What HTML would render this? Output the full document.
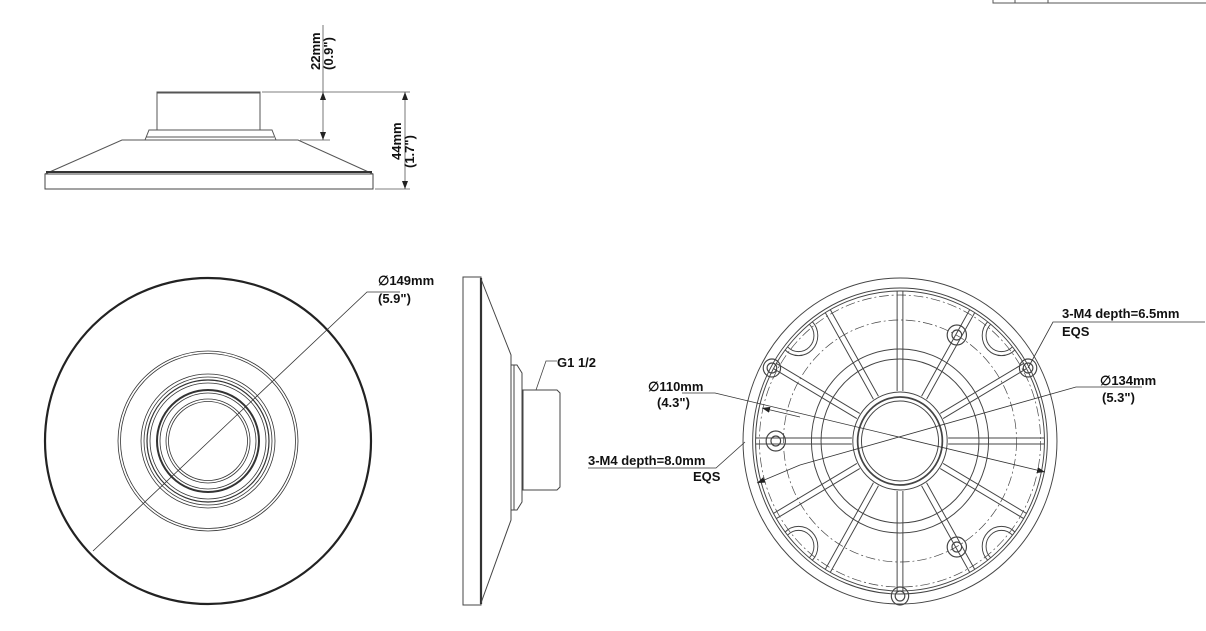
<!DOCTYPE html>
<html><head><meta charset="utf-8"><style>
html,body{margin:0;padding:0;background:#fff;width:1206px;height:631px;overflow:hidden}
svg text{font-family:"Liberation Sans",sans-serif;font-weight:bold;font-size:13px;fill:#111}
</style></head><body>
<svg width="1206" height="631" viewBox="0 0 1206 631" xmlns="http://www.w3.org/2000/svg">
<defs>
<marker id="ar" markerWidth="8" markerHeight="6" refX="8" refY="3" orient="auto-start-reverse" markerUnits="userSpaceOnUse"><path d="M0,0 L8,3 L0,6 z" fill="#222"/></marker>
</defs>
<g stroke="#555" stroke-width="1" fill="none">
<path d="M993,0 V3 H1206 M1015,0 V3 M1048,0 V3"/>
<rect x="45" y="174" width="328" height="15" stroke="#444"/>
<path d="M45,174 L122,140 H298 L373,174" />
<path d="M46,172 H372" stroke="#333" stroke-width="2"/>
<path d="M145,140 L149,130 H272 L276,140 M146,137 H274"/>
<rect x="157" y="92" width="103" height="38"/>
<path d="M157,93 H260"/>
<path d="M262,92 H410 M300,140 H330 M375,189 H410" stroke-width="0.8"/>
<path d="M323,25 V92" stroke-width="0.8"/>
<path d="M323,116 V92" stroke-width="0.8" marker-end="url(#ar)"/>
<path d="M323,116 V140" stroke-width="0.8" marker-end="url(#ar)"/>
<path d="M405,92 V189" stroke-width="0.8" marker-start="url(#ar)" marker-end="url(#ar)"/>
</g>
<text transform="translate(320,70) rotate(-90)" font-size="12">22mm</text>
<text transform="translate(333,70) rotate(-90)" font-size="12">(0.9")</text>
<text transform="translate(401,160) rotate(-90)" font-size="12">44mm</text>
<text transform="translate(414,168) rotate(-90)" font-size="12">(1.7")</text>

<g fill="none" stroke="#333">
<circle cx="208" cy="441" r="163" stroke-width="2.2" stroke="#222"/>
<circle cx="208" cy="441" r="90" stroke-width="0.8"/>
<circle cx="208" cy="441" r="87.5" stroke-width="0.8"/>
<circle cx="208" cy="441" r="67" stroke-width="0.8"/>
<circle cx="208" cy="441" r="64" stroke-width="0.8"/>
<circle cx="208" cy="441" r="61" stroke-width="1.2"/>
<circle cx="208" cy="441" r="58" stroke-width="0.8"/>
<circle cx="208" cy="441" r="51" stroke-width="2"/>
<circle cx="208" cy="441" r="48" stroke-width="0.8"/>
<circle cx="208" cy="441" r="42" stroke-width="0.8"/>
<circle cx="208" cy="441" r="39.5" stroke-width="0.8"/>
<path d="M93,551 L367,292 H400" stroke-width="0.8"/>
</g>
<text x="378" y="285">∅149mm</text>
<text x="378" y="303">(5.9")</text>

<g fill="none" stroke="#444">
<rect x="463" y="277" width="18" height="328"/>
<path d="M481,278 V604" stroke-width="2.2" stroke="#333"/>
<path d="M481,279 L511,355 V520 L481,603"/>
<path d="M511,365 H517 L522,373 V502 L517,510 H511 Z"/>
<path d="M514,365 V510"/>
<path d="M523,390 H557 L560,393 V487 L557,490 H523 Z"/>
<path d="M536,390 L546,361 H557" stroke-width="0.8"/>
</g>
<text x="557" y="367">G1 1/2</text>

<g transform="translate(900,441) scale(0.963,1)" fill="none" stroke="#444" stroke-width="1">
<circle r="163"/>
<circle r="153"/>
<circle r="150"/>
<circle r="146" stroke-dasharray="10,3,2,3" stroke-width="0.7"/>
<circle r="121" stroke-dasharray="10,3,2,3" stroke-width="0.7"/>
<circle r="92"/>
<circle r="82"/>
<circle r="49"/>
<circle r="44" stroke-width="1.8"/>
<circle r="40"/>
<g id="rib"><path d="M-3,-50 V-150 M3,-50 V-150"/></g>
<use href="#rib" transform="rotate(30)"/>
<use href="#rib" transform="rotate(60)"/>
<use href="#rib" transform="rotate(90)"/>
<use href="#rib" transform="rotate(120)"/>
<use href="#rib" transform="rotate(150)"/>
<use href="#rib" transform="rotate(180)"/>
<use href="#rib" transform="rotate(210)"/>
<use href="#rib" transform="rotate(240)"/>
<use href="#rib" transform="rotate(270)"/>
<use href="#rib" transform="rotate(300)"/>
<use href="#rib" transform="rotate(330)"/>
<g id="notch"><path d="M-20,-149 A20,20 0 0 0 20,-149 M-16,-149 A16,16 0 0 0 16,-149" transform="rotate(45)"/></g>
<use href="#notch" transform="rotate(90)"/>
<use href="#notch" transform="rotate(180)"/>
<use href="#notch" transform="rotate(270)"/>
<g stroke-width="1.2">
<circle cx="59" cy="-106" r="10"/><circle cx="59" cy="-106" r="5"/>
<circle cx="59" cy="106" r="10"/><circle cx="59" cy="106" r="5"/>
<circle cx="-129" cy="0" r="10"/><circle cx="-129" cy="0" r="5"/>
<circle cx="133" cy="-73" r="9"/><circle cx="133" cy="-73" r="5"/>
<circle cx="-133" cy="-73" r="9"/><circle cx="-133" cy="-73" r="5"/>
<circle cx="0" cy="155" r="9"/><circle cx="0" cy="155" r="5"/>
</g>
</g>
<g fill="none" stroke="#333" stroke-width="0.8">
<path d="M682,393 H715 L1045,472" marker-end="url(#ar)"/>
<path d="M800,417 L762,408" marker-end="url(#ar)"/>
<path d="M800,465 L757,483" marker-end="url(#ar)"/>
<path d="M800,465 L1076,387 H1142"/>
<path d="M1028,368 L1053,322 H1205"/>
<path d="M745,442 L716,468 H588"/>
</g>
<text x="1062" y="318">3-M4 depth=6.5mm</text>
<text x="1062" y="336">EQS</text>
<text x="1100" y="385">∅134mm</text>
<text x="1102" y="402">(5.3")</text>
<text x="648" y="391">∅110mm</text>
<text x="657" y="407">(4.3")</text>
<text x="588" y="465">3-M4 depth=8.0mm</text>
<text x="693" y="481">EQS</text>
</svg>
</body></html>
